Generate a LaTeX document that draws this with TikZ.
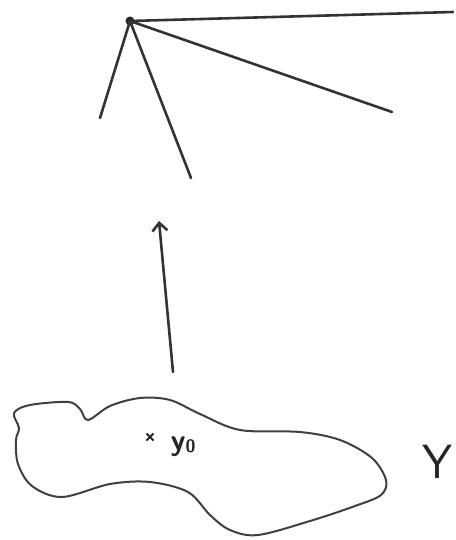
\documentclass[tikz,border=0pt]{standalone}
\usetikzlibrary{arrows.meta}
\begin{document}
\begin{tikzpicture}[x=1pt,y=-1pt,
  pen/.style={line width=2.6pt,draw=black!80,line cap=round,line join=round},
  thin pen/.style={line width=2pt,draw=black!75},
  lbl/.style={font=\sffamily,inner sep=0pt,text=black!85}]
\useasboundingbox (0,0) rectangle (455,540);
% star of rays
\coordinate (v) at (130,21);
\coordinate (r1) at (453,12);
\coordinate (r2) at (392,112);
\coordinate (r3) at (100,118);
\coordinate (r4) at (191,178);
\fill[black!85] (v) circle (4.5);
\draw[pen] (v) -- (r1);
\draw[pen] (v) -- (r2);
\draw[pen] (v) -- (r3);
\draw[pen] (v) -- (r4);
% arrow
\coordinate (a0) at (173,372);
\coordinate (a1) at (159,221);
\draw[pen,-{Straight Barb[length=8pt,width=15pt,line width=2.6pt]}] (a0) -- (a1);
% blob
\draw[thin pen] plot[smooth cycle,tension=0.55] coordinates {
 (14,413) (30,405) (68,402) (80,409) (88,420) (110,406) (140,398) (170,400)
 (200,414) (240,430) (300,432) (340,440) (372,458) (386,480) (381,495)
 (355,506) (310,521) (258,535) (230,530) (210,515) (188,492) (150,482)
 (110,484) (62,497) (32,486) (18,464) (16,440) (19,428)};
% labels
\node[lbl] (x) at (150,437) {};
\draw[line width=1.8pt,draw=black!85] (x.center) ++(-3.5,-3.5) -- ++(7,7) (x.center) ++(3.5,-3.5) -- ++(-7,7);
\node[lbl,font=\sffamily\bfseries\fontsize{30}{32}\selectfont] (y0) at (183,447) {y\raisebox{-2pt}{\fontsize{18}{20}\selectfont 0}};
\node[lbl,font=\sffamily\fontsize{48}{50}\selectfont] (Y) at (437,462) {Y};
\end{tikzpicture}
\end{document}
